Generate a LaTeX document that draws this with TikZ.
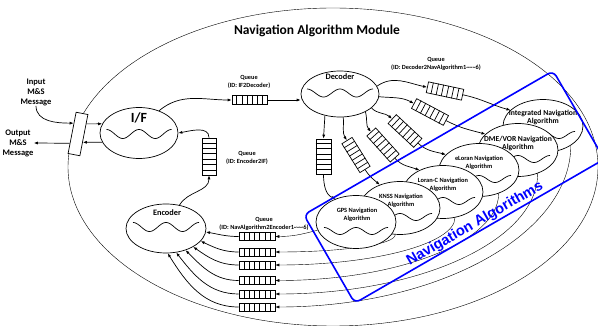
\documentclass[tikz,border=0pt]{standalone}
\usepackage{fontspec}
\setmainfont{Carlito}
\newfontfamily\arialfont{Liberation Sans}
\usetikzlibrary{shapes.geometric,arrows.meta,calc,backgrounds}

% seven slots in a queue node
\newcommand{\qcells}[1]{%
  \foreach \k in {1,...,6}
    \draw ($(#1.south west)!\k/7!(#1.south east)$) -- ($(#1.north west)!\k/7!(#1.north east)$);
}
% wavy line in an ellipse: node, half width, y offset, amplitude
\newcommand{\wave}[4]{%
  \draw[shift={(#1.center)}] plot[domain=-#2:#2, samples=60] (\x, {#3+#4*cos((\x+#2)/#2*360)});
}

\tikzset{
  every node/.style={font=\bfseries},
  proc/.style={ellipse, draw, fill=white, inner sep=0pt},
  alg/.style={ellipse, draw, fill=white, minimum width=80pt, minimum height=53pt, inner sep=0pt},
  queue/.style={rectangle, draw, fill=white, inner sep=0pt},
  arr/.style={-{Latex[length=4pt,width=3pt]}},
  qlabel/.style={align=center, inner sep=0pt, font=\bfseries\fontsize{6.3}{8.5}\selectfont},
  msg/.style={align=center, inner sep=0pt, font=\bfseries\fontsize{8.5}{10}\selectfont},
  algtext/.style={align=center, inner sep=0pt, font=\bfseries\fontsize{6.4}{8}\selectfont},
  bigtext/.style={align=center, inner sep=0pt, font=\bfseries\fontsize{7.6}{8}\selectfont},
}

\begin{document}
\begin{tikzpicture}[x=1pt, y=1pt, line width=0.7pt]

\useasboundingbox (0,0) rectangle (598,-326);
\clip (0,0) rectangle (598,-326);

\node (title) at (317,-31) {\fontsize{13.5}{16}\selectfont Navigation Algorithm Module};

% interface port and messages
\node[draw, fill=white, minimum width=12pt, minimum height=42pt, inner sep=0pt, rotate=-11] (iface) at (78,-134) {};
\node[msg] (inmsg) at (36,-92) {Input\\M\&S\\Message};
\node[msg] (outmsg) at (18,-143) {Output\\M\&S\\Message};

% I/F, Decoder, Encoder
\node[proc, minimum width=78pt, minimum height=51pt] (ifn) at (139,-133) {};
\node[font=\bfseries\fontsize{14}{16}\selectfont, inner sep=0pt] (ifT) at (139,-118) {I/F};
\wave{ifn}{32.5}{-1}{4.5}

\node[proc, minimum width=78pt, minimum height=46pt] (dec) at (340,-94) {};
\node[font=\bfseries\fontsize{8.3}{10}\selectfont, inner sep=0pt] (decT) at (340,-77) {Decoder};
\wave{dec}{33}{1}{4}

\node[proc, minimum width=80pt, minimum height=49pt] (enc) at (166,-228.5) {};
\node[font=\bfseries\fontsize{8.3}{10}\selectfont, inner sep=0pt] (encT) at (167,-213) {Encoder};
\wave{enc}{33}{1.5}{4.5}

% navigation algorithms, back to front
\node[alg] (integ) at (543,-126) {};
\node[bigtext] (integT) at (543,-117) {Integrated Navigation\\Algorithm};
\wave{integ}{32}{-9}{3.5}

\node[alg] (dme) at (518,-150) {};
\node[bigtext] (dmeT) at (518,-143) {DME/VOR Navigation\\Algorithm};
\wave{dme}{32}{-9}{3.5}

\node[alg] (eloran) at (479,-170) {};
\node[algtext] (eloranT) at (479,-163) {eLoran Navigation\\Algorithm};
\wave{eloran}{32}{-9}{3.5}

\node[alg] (loranc) at (443,-192) {};
\node[algtext] (lorancT) at (443,-185) {Loran-C Navigation\\Algorithm};
\wave{loranc}{32}{-9}{3.5}

\node[alg] (knss) at (400,-208) {};
\node[algtext] (knssT) at (401,-201) {KNSS Navigation\\Algorithm};
\wave{knss}{32}{-9}{3.5}

\node[alg] (gps) at (356,-222) {};
\node[algtext] (gpsT) at (357,-215) {GPS Navigation\\Algorithm};
\wave{gps}{32}{-9}{3.5}

% queues
\node[queue, minimum width=35pt, minimum height=8.5pt] (qIF) at (249.5,-100) {};
\node[queue, minimum width=37pt, minimum height=14pt, rotate=90] (qEI) at (209,-156.5) {};
\node[queue, minimum width=35pt, minimum height=15pt, rotate=-90] (qD1) at (323.5,-156.5) {};
\node[queue, minimum width=34pt, minimum height=12pt, rotate=-58] (qD2) at (356,-155) {};
\node[queue, minimum width=35pt, minimum height=12pt, rotate=-48] (qD3) at (383,-145) {};
\node[queue, minimum width=35pt, minimum height=12pt, rotate=-43] (qD4) at (405,-131) {};
\node[queue, minimum width=36pt, minimum height=11pt, rotate=-28] (qD5) at (430,-112) {};
\node[queue, minimum width=36pt, minimum height=11pt, rotate=-12] (qD6) at (445,-91) {};
\foreach \i/\y in {1/236.5, 2/252, 3/265, 4/280.5, 5/294, 6/307}
  \node[queue, minimum width=36pt, minimum height=8pt] (qE\i) at (257,-\y) {};

\foreach \q in {qIF, qEI, qD1, qD2, qD3, qD4, qD5, qD6, qE1, qE2, qE3, qE4, qE5, qE6}
  {\qcells{\q}}

\node[qlabel] (lIF) at (249,-82) {Queue\\(ID: IF2Decoder)};
\node[qlabel] (lEI) at (247,-158) {Queue\\(ID: Encoder2IF)};
\node[qlabel] (lD) at (436,-64) {Queue\\(ID: Decoder2NavAlgorithm1\textasciitilde{}\textasciitilde{}\textasciitilde{}6)};
\node[qlabel] (lE) at (264,-224) {Queue\\(ID: NavAlgorithm2Encoder1\textasciitilde{}\textasciitilde{}\textasciitilde{}6)};

% module border and return paths behind the nodes
\begin{scope}[on background layer]
\draw (333,-167) ellipse [x radius=265, y radius=159];
\draw[arr] (gps.192) to[out=195, in=0] (qE1.east);
\draw[arr] (knss.-100) .. controls +(0,-10) and +(66,0) .. (qE2.east);
\draw[arr] (loranc.-65) .. controls +(0,-26) and +(99,0) .. (qE3.east);
\draw[arr] (eloran.-50) .. controls +(0,-48) and +(123,0) .. (qE4.east);
\draw[arr] (dme.-50) .. controls +(0,-67) and +(145,0) .. (qE5.east);
\draw[arr] (integ.-35) .. controls +(0,-89) and +(163,0) .. (qE6.east);
\end{scope}

% messages
\draw[arr] (inmsg.south) to[out=-90, in=180] ($(iface.north west)!0.27!(iface.south west)$);
\draw[arr] ($(iface.north west)!0.75!(iface.south west)$) -- (outmsg.east);
\draw[arr] ($(iface.north east)!0.23!(iface.south east)$) -- (ifn.166);
\draw[arr] (ifn.194) -- ($(iface.north east)!0.67!(iface.south east)$);

% I/F <-> Decoder / Encoder
\draw[arr] (ifn.48) to[out=40, in=180] (qIF.west);
\draw[arr] (qIF.east) -- (qIF.east -| dec.west);
\draw[arr] (qEI.east) to[out=90, in=10] (ifn.east);
\draw[arr] (enc.60) to[out=60, in=-90] (qEI.west);

% Decoder -> queues
\draw[arr] (dec.235) -- (qD1.west);
\draw[arr] (dec.278) to[out=-85, in=122] (qD2.west);
\draw[arr] (dec.-35) to[out=-75, in=132] (qD3.west);
\draw[arr] (dec.-24) to[out=-45, in=137] (qD4.west);
\draw[arr] (dec.-4) to[out=-5, in=152] (qD5.west);
\draw[arr] (dec.12) to[out=35, in=168] (qD6.west);

% queues -> algorithms
\draw[arr] (qD1.east) to[out=-90, in=160] (gps.131);
\draw[arr] (qD2.east) to[out=-58, in=140] (knss.131);
\draw[arr] (qD3.east) to[out=-48, in=160] (loranc.137);
\draw[arr] (qD4.east) to[out=-43, in=165] (eloran.155);
\draw[arr] (qD5.east) to[out=-28, in=165] (dme.154);
\draw[arr] (qD6.east) to[out=-12, in=165] (integ.154);

% queues -> Encoder
\draw[arr] (qE1.west) to[out=180, in=-10] (enc.-5);
\draw[arr] (qE2.west) to[out=180, in=-25] (enc.-20);
\draw[arr] (qE3.west) to[out=180, in=-35] (enc.-34);
\draw[arr] (qE4.west) to[out=180, in=-45] (enc.-48);
\draw[arr] (qE5.west) to[out=180, in=-52] (enc.-67);
\draw[arr] (qE6.west) to[out=180, in=-58] (enc.-86);

% grouping box
\node[draw=blue, line width=1.6pt, rounded corners=6pt, minimum width=288pt, minimum height=102pt, inner sep=0pt, rotate=30] (navbox) at (454,-187) {};
\node[text=blue, rotate=30, inner sep=0pt, font=\arialfont\bfseries\fontsize{14.5}{17}\selectfont] (navT) at (475,-224) {Navigation Algorithms};

\end{tikzpicture}
\end{document}
